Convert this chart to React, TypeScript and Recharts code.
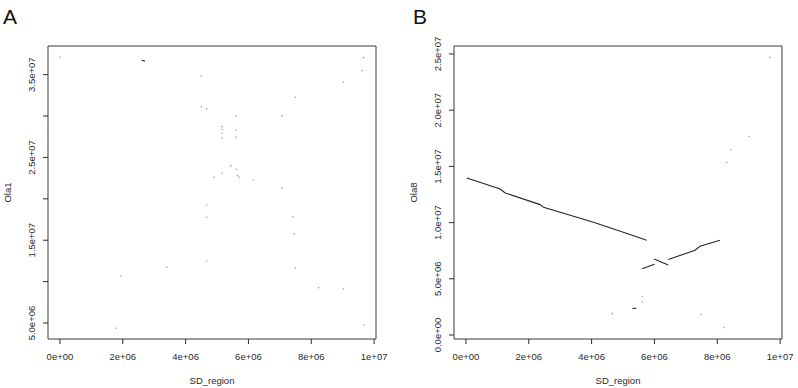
import { ScatterChart, Scatter, XAxis, YAxis, ReferenceArea, Label } from "recharts"

const FONT = '"Liberation Sans", Arial, Helvetica, sans-serif'
const INK = "#2b2b2b"

// axis ticks (bp)
const sdTicks = [0, 2e6, 4e6, 6e6, 8e6, 1e7]
const ola1Ticks = [5e6, 1e7, 1.5e7, 2e7, 2.5e7, 3e7, 3.5e7]
const ola1Labelled = [5e6, 1.5e7, 2.5e7, 3.5e7]
const ola8Ticks = [0, 5e6, 1e7, 1.5e7, 2e7, 2.5e7]

// axis ranges (R pads the data range by 4%)
const sdRange = [-0.38e6, 10.06e6]
const ola1Range = [3.07e6, 38.46e6]
const ola8Range = [-0.355e6, 25.71e6]

// panel A: hits, in Mb [SD_region, Ola1]
const ola1Dots = [
    [0.0, 37.14], [9.66, 37.05], [9.62, 35.48], [9.02, 34.12], [7.49, 32.27],
    [4.49, 34.81], [4.5, 31.13], [4.67, 30.86], [5.61, 30.01], [7.06, 30.05],
    [5.16, 28.72], [5.16, 28.4], [5.16, 27.92], [5.16, 27.32], [5.61, 28.32],
    [5.61, 27.44], [5.44, 24.01], [5.16, 23.09], [4.91, 22.6], [5.61, 23.57],
    [5.65, 22.8], [5.71, 22.6], [6.16, 22.28], [7.06, 21.31], [4.67, 19.26],
    [4.67, 17.77], [4.67, 12.49], [7.41, 17.84], [7.46, 15.79], [7.49, 11.68],
    [3.4, 11.73], [1.94, 10.68], [8.23, 9.27], [9.02, 9.11], [9.67, 4.76],
    [1.78, 4.36],
]
const ola1Dash = [[2.6, 36.76], [2.71, 36.63]]

// panel B: hits, in Mb [SD_region, Ola8]
const ola8MainLine = [
    [0.03, 13.97], [1.09, 12.99], [1.25, 12.64], [2.36, 11.6], [2.47, 11.36],
    [4.06, 10.03], [5.22, 8.94], [5.75, 8.43],
]
const ola8RiseA = [[5.61, 5.89], [6.0, 6.3]]
const ola8Back = [[5.99, 6.76], [6.44, 6.23]]
const ola8RiseB = [[6.44, 6.72], [7.18, 7.43], [7.29, 7.54], [7.45, 7.9], [8.08, 8.43]]
const ola8Dash = [[5.3, 2.37], [5.42, 2.37]]
const ola8Dots = [
    [9.67, 24.7], [9.01, 17.66], [8.43, 16.48], [8.3, 15.35], [4.66, 1.9],
    [5.61, 3.41], [5.61, 2.93], [7.48, 1.84], [8.22, 0.66],
]

const toRows = (pts) => pts.map(([x, y]) => ({ x: x * 1e6, y: y * 1e6 }))

// R style exponent labels: 2e+06, 1.5e+07
const sci = (v, digits) =>
    v.toExponential(digits).replace(/e([+-])(\d+)$/, (_m, s, e) => "e" + s + e.padStart(2, "0"))

const Dot = (props) => <circle cx={props.cx} cy={props.cy} r={0.8} fill={props.fill} />
const NoDot = () => <g />

const XTick = ({ x, y, payload }) => (
    <text x={x} y={y} dy="0.71em" textAnchor="middle" fontSize={9.5} fill={INK} fontFamily={FONT}>
        {sci(payload.value, 0)}
    </text>
)

const makeYTick = (shown) => ({ x, y, payload }) =>
    shown.includes(payload.value) ? (
        <text x={x} y={y} transform={`rotate(-90 ${x} ${y})`} textAnchor="middle" fontSize={9.5} fill={INK} fontFamily={FONT}>
            {sci(payload.value, 1)}
        </text>
    ) : <g />

const XTitle = ({ viewBox }) => (
    <text x={viewBox.x + viewBox.width / 2} y={viewBox.y + 45} textAnchor="middle" fontSize={9.5} fill={INK} fontFamily={FONT}>
        SD_region
    </text>
)

const YTitle = ({ viewBox, text }) => {
    const x = viewBox.x + viewBox.width - 37.5
    const y = viewBox.y + viewBox.height / 2
    return (
        <text x={x} y={y} transform={`rotate(-90 ${x} ${y})`} textAnchor="middle" fontSize={9.5} fill={INK} fontFamily={FONT}>
            {text}
        </text>
    )
}

const Panel = ({ letter, yName, yTicks, yShown, yRange, yWidth, right, dots, lines, dotFill }) => (
    <div style={{ position: "relative", width: 399, height: 388 }}>
        <div style={{ position: "absolute", left: letter === "A" ? 3 : 14, top: 5.5, fontSize: 21, lineHeight: "21px", fontFamily: FONT, color: "#111" }}>
            {letter}
        </div>
        <ScatterChart width={399} height={388} margin={{ top: 46, right: right, bottom: 3, left: 0 }}>
            <XAxis
                type="number"
                dataKey="x"
                domain={sdRange}
                allowDataOverflow
                ticks={sdTicks}
                interval={0}
                height={46}
                axisLine={false}
                tickLine={{ stroke: INK }}
                tickSize={5}
                tickMargin={9}
                tick={XTick}
            >
                <Label content={<XTitle />} />
            </XAxis>
            <YAxis
                type="number"
                dataKey="y"
                domain={yRange}
                allowDataOverflow
                ticks={yTicks}
                interval={0}
                width={yWidth}
                axisLine={false}
                tickLine={{ stroke: INK }}
                tickSize={5}
                tickMargin={8}
                tick={makeYTick(yShown)}
            >
                <Label content={<YTitle text={yName} />} />
            </YAxis>
            <ReferenceArea x1={sdRange[0]} x2={sdRange[1]} y1={yRange[0]} y2={yRange[1]} fill="none" stroke="#3a3a3a" strokeWidth={1} />
            <Scatter data={toRows(dots)} fill={dotFill} shape={Dot} isAnimationActive={false} />
            {lines.map((seg, i) => (
                <Scatter
                    key={i}
                    data={toRows(seg)}
                    line={{ stroke: "#262626", strokeWidth: 1.1 }}
                    lineType="joint"
                    shape={NoDot}
                    isAnimationActive={false}
                />
            ))}
        </ScatterChart>
    </div>
)

export default function App() {
    return (
        <div style={{ position: "absolute", left: 0, top: 0, width: 798, height: 388, background: "#fff", display: "flex" }}>
            <Panel
                letter="A"
                yName="Ola1"
                yTicks={ola1Ticks}
                yShown={ola1Labelled}
                yRange={ola1Range}
                yWidth={48}
                right={23}
                dots={ola1Dots}
                lines={[ola1Dash]}
                dotFill="#a0a0a0"
            />
            <Panel
                letter="B"
                yName="Ola8"
                yTicks={ola8Ticks}
                yShown={ola8Ticks}
                yRange={ola8Range}
                yWidth={55}
                right={16}
                dots={ola8Dots}
                lines={[ola8MainLine, ola8RiseA, ola8Back, ola8RiseB, ola8Dash]}
                dotFill="#a0a0a0"
            />
        </div>
    )
}
